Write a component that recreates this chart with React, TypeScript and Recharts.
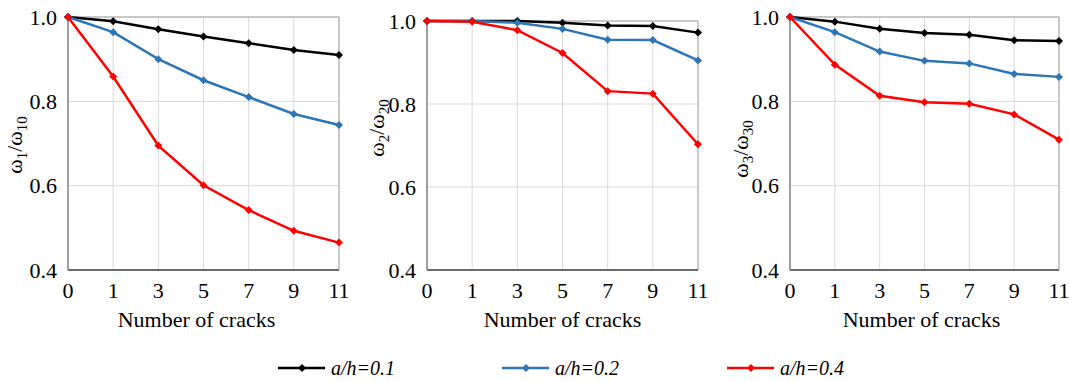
import React from 'react';
import { LineChart, Line, XAxis, YAxis, CartesianGrid, ReferenceLine } from 'recharts';

const cracks = ['0', '1', '3', '5', '7', '9', '11'];
const seriesNames = ['a/h=0.1', 'a/h=0.2', 'a/h=0.4'];
const seriesColors = ['#000000', '#2E75B6', '#FF0000'];
const yTicks = [0.4, 0.6, 0.8, 1.0];
const xTitle = 'Number of cracks';

// mode 1 (ω1/ω10)
const mode1A01 = [1.0, 0.99, 0.971, 0.954, 0.938, 0.922, 0.91];
const mode1A02 = [1.0, 0.964, 0.9, 0.85, 0.81, 0.77, 0.744];
const mode1A04 = [1.0, 0.859, 0.695, 0.601, 0.542, 0.493, 0.465];
// mode 2 (ω2/ω20)
const mode2A01 = [1.0, 1.0, 1.0, 0.996, 0.989, 0.988, 0.972];
const mode2A02 = [1.0, 1.0, 0.996, 0.981, 0.955, 0.954, 0.905];
const mode2A04 = [1.0, 0.998, 0.978, 0.923, 0.831, 0.825, 0.703];
// mode 3 (ω3/ω30)
const mode3A01 = [1.0, 0.989, 0.972, 0.962, 0.958, 0.945, 0.943];
const mode3A02 = [1.0, 0.964, 0.918, 0.896, 0.89, 0.865, 0.858];
const mode3A04 = [1.0, 0.887, 0.813, 0.798, 0.794, 0.769, 0.709];

const FONT = 'Liberation Serif';
const fontStyle = { fontFamily: FONT };

const panels = [
  { mode: '1', values: [mode1A01, mode1A02, mode1A04], left: 0, width: 349, yw: 68, top: 17, lx: 22, ly: 145, tdx: -7 },
  { mode: '2', values: [mode2A01, mode2A02, mode2A04], left: 360, width: 348, yw: 67, top: 21, lx: 24, ly: 128, tdx: 0 },
  { mode: '3', values: [mode3A01, mode3A02, mode3A04], left: 722, width: 347, yw: 68, top: 17, lx: 26, ly: 149, tdx: -3 },
];

const Diamond = (props: any) => {
  const { cx, cy, stroke, index } = props;
  if (cx == null || cy == null) return <g key={index} />;
  const r = 4;
  return (
    <path
      key={index}
      d={`M${cx},${cy - r}L${cx + r},${cy}L${cx},${cy + r}L${cx - r},${cy}Z`}
      fill={stroke}
      stroke="none"
    />
  );
};

const YTitle = ({ mode, cx, cy }: { mode: string; cx: number; cy: number }) => (
  <text
    x={cx}
    y={cy}
    transform={`rotate(-90 ${cx} ${cy})`}
    textAnchor="middle"
    style={fontStyle}
    fontSize={22}
    fill="#000"
  >
    <tspan>ω</tspan>
    <tspan dy={5} fontSize={15}>{mode}</tspan>
    <tspan dy={-5}>/ω</tspan>
    <tspan dy={5} fontSize={15}>{mode + '0'}</tspan>
  </text>
);

const Panel = ({ p }: { p: (typeof panels)[number] }) => {
  const data = cracks.map((c, i) => ({
    n: c,
    s0: p.values[0][i],
    s1: p.values[1][i],
    s2: p.values[2][i],
  }));
  return (
    <div style={{ position: 'absolute', left: p.left, top: 0 }}>
      <LineChart
        width={p.width}
        height={381}
        data={data}
        margin={{ top: p.top, right: 10, bottom: 49, left: 0 }}
        style={fontStyle}
      >
        <CartesianGrid stroke="#D9D9D9" strokeWidth={1} />
        <XAxis
          dataKey="n"
          type="category"
          height={62}
          tickLine={false}
          tickSize={0}
          tickMargin={12}
          axisLine={{ stroke: '#404040', strokeWidth: 1.5 }}
          tick={{ fontSize: 22, fill: '#000', fontFamily: FONT, style: fontStyle }}
          interval={0}
          label={{ value: xTitle, position: 'insideBottom', offset: 5, dx: p.tdx, fontSize: 22, fill: '#000', fontFamily: FONT, style: fontStyle }}
        />
        <YAxis
          width={p.yw}
          type="number"
          domain={[0.4, 1.0]}
          ticks={yTicks}
          tickLine={false}
          tickSize={0}
          tickMargin={11}
          axisLine={{ stroke: '#868686', strokeWidth: 1.5 }}
          tick={{ fontSize: 22, fill: '#000', fontFamily: FONT, style: fontStyle }}
          tickFormatter={(v: number) => v.toFixed(1)}
          label={{ content: () => <YTitle mode={p.mode} cx={p.lx} cy={p.ly} /> }}
        />
        <ReferenceLine y={1.0} stroke="#A6A6A6" strokeWidth={1} />
        <ReferenceLine x="11" stroke="#A6A6A6" strokeWidth={1} />
        {[0, 1, 2].map((k) => (
          <Line
            key={k}
            type="linear"
            dataKey={`s${k}`}
            name={seriesNames[k]}
            stroke={seriesColors[k]}
            strokeWidth={2.5}
            dot={(props: any) => <Diamond key={props.index} {...props} stroke={seriesColors[k]} />}
            activeDot={false}
            isAnimationActive={false}
          />
        ))}
      </LineChart>
    </div>
  );
};

const legendStarts = [278, 502, 727];

const Legend = () => (
  <svg width={1069} height={41} style={{ position: 'absolute', left: 0, top: 340, fontFamily: FONT }}>
    {seriesNames.map((name, k) => {
      const x0 = legendStarts[k];
      const y = 28;
      return (
        <g key={name}>
          <line x1={x0} x2={x0 + 47} y1={y} y2={y} stroke={seriesColors[k]} strokeWidth={2.5} />
          <path d={`M${x0 + 24},${y - 4}L${x0 + 28},${y}L${x0 + 24},${y + 4}L${x0 + 20},${y}Z`} fill={seriesColors[k]} />
          <text x={x0 + 53} y={35} style={{ fontFamily: FONT, fontStyle: 'italic' }} fontSize={20} fill="#000">
            {name}
          </text>
        </g>
      );
    })}
  </svg>
);

export default function App() {
  return (
    <div
      style={{
        position: 'absolute',
        left: 0,
        top: 0,
        width: 1069,
        height: 381,
        background: '#fff',
        overflow: 'hidden',
        fontFamily: FONT,
      }}
    >
      {panels.map((p) => (
        <Panel key={p.mode} p={p} />
      ))}
      <Legend />
    </div>
  );
}
